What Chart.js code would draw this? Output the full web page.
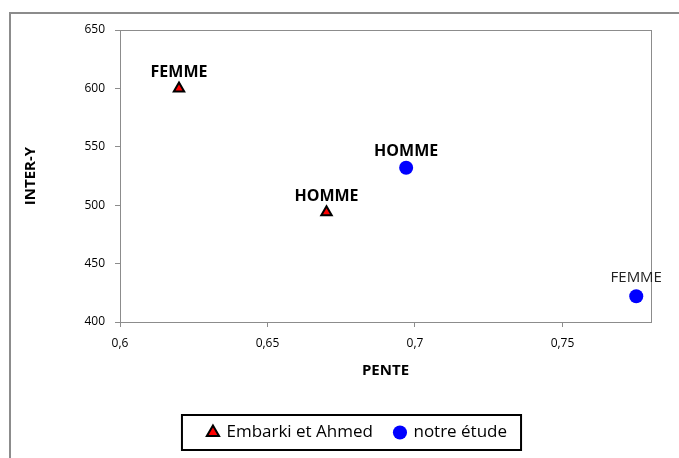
<!DOCTYPE html>
<html lang="fr">
<head>
<meta charset="UTF-8" />
<title>PENTE / INTER-Y</title>
<script src="https://cdn.jsdelivr.net/npm/chart.js@4.4.3/dist/chart.umd.js"></script>
<style>
  *{box-sizing:border-box;margin:0;padding:0}
  html,body{width:679px;height:458px;overflow:hidden;background:#fff}
  .frame{position:absolute;left:9px;top:12px;width:700px;height:470px;
         border-left:2px solid #8c8c8c;border-top:2px solid #8c8c8c}
  .wrap{position:absolute;left:0;top:0;width:679px;height:458px}
</style>
</head>
<body>
<div class="frame"></div>
<div class="wrap"><canvas id="c"></canvas></div>
<script>
  // ---- data ----
  const seriesNames = ['Embarki et Ahmed', 'notre étude'];
  const embarkiPente = [0.62, 0.67];
  const embarkiInter = [600, 494];
  const embarkiLabels = ['FEMME', 'HOMME'];
  const etudePente = [0.697, 0.775];
  const etudeInter = [532, 422];
  const etudeLabels = ['HOMME', 'FEMME'];
  const xTicks = [0.6, 0.65, 0.7, 0.75];

  const FONT = '"Open Sans", sans-serif';
  const LEGEND_SHIFT = 25;  // legend sits a bit right of centre in the original
  const toPts = (xs, ys) => xs.map((x, i) => ({x, y: ys[i]}));

  /* labels above each point, plot border, legend box */
  const decor = {
    id: 'decor',
    afterLayout(chart){
      chart.legend.left += LEGEND_SHIFT;
      chart.legend.right += LEGEND_SHIFT;
    },
    afterDatasetsDraw(chart){
      const {ctx, chartArea:a} = chart;
      ctx.save();
      ctx.strokeStyle = '#8c8c8c'; ctx.lineWidth = 1;
      ctx.strokeRect(a.left + .5, a.top + .5, a.right - a.left, a.bottom - a.top);
      ctx.textAlign = 'center'; ctx.textBaseline = 'bottom';
      chart.data.datasets.forEach((ds, di) => {
        chart.getDatasetMeta(di).data.forEach((pt, i) => {
          const lightLbl = di === 1 && i === 1;
          ctx.fillStyle = lightLbl ? '#222' : '#000';
          ctx.font = (lightLbl ? '15px ' : 'bold 16px ') + FONT;
          ctx.fillText(ds.pointLabels[i], pt.x, pt.y - (lightLbl ? 11 : 8));
        });
      });
      ctx.restore();
    },
    afterDraw(chart){
      const hb = chart.legend.legendHitBoxes;
      if(!hb || !hb.length) return;
      const l = Math.min(...hb.map(h => h.left)) - 26;
      const r = Math.max(...hb.map(h => h.left + h.width)) + 14;
      const t = hb[0].top - 9, b = hb[0].top + hb[0].height + 9;
      const ctx = chart.ctx;
      ctx.save();
      ctx.strokeStyle = '#000'; ctx.lineWidth = 2;
      ctx.strokeRect(l, t, r - l, b - t);
      ctx.restore();
    }
  };

  new Chart(document.getElementById('c'), {
    type: 'scatter',
    data: {
      datasets: [
        {label: seriesNames[0], data: toPts(embarkiPente, embarkiInter), pointLabels: embarkiLabels,
         pointStyle: 'triangle', pointRadius: 6, pointHoverRadius: 6,
         backgroundColor: '#ff0000', borderColor: '#000', borderWidth: 2},
        {label: seriesNames[1], data: toPts(etudePente, etudeInter), pointLabels: etudeLabels,
         pointStyle: 'circle', pointRadius: 7, pointHoverRadius: 7,
         backgroundColor: '#0000ff', borderColor: '#0000ff', borderWidth: 0}
      ]
    },
    options: {
      responsive: true, maintainAspectRatio: false, animation: false,
      layout: {padding: {left: 14, right: 28, top: 30, bottom: 7}},
      scales: {
        x: {
          type: 'linear', min: 0.6, max: 0.78,
          afterBuildTicks: s => { s.ticks = xTicks.map(v => ({value: v})); },
          ticks: {color: '#000', font: {family: FONT, size: 12}, padding: 9,
                  callback: v => String(v).replace('.', ',')},
          grid: {drawOnChartArea: false, tickLength: 5, color: '#8c8c8c'},
          border: {color: '#8c8c8c'},
          afterFit: s => { s.height = 80; },
          title: {display: true, text: 'PENTE', color: '#000',
                  font: {family: FONT, size: 15, weight: 'bold'}, padding: {top: 10, bottom: 22}}
        },
        y: {
          min: 400, max: 650,
          ticks: {stepSize: 50, color: '#000', font: {family: FONT, size: 12}, padding: 10},
          grid: {drawOnChartArea: false, tickLength: 5, color: '#8c8c8c'},
          border: {color: '#8c8c8c'},
          afterFit: s => { s.width = 106; },
          title: {display: true, text: 'INTER-Y', color: '#000',
                  font: {family: FONT, size: 15, weight: 'bold'}, padding: {top: 8, bottom: 0}}
        }
      },
      plugins: {
        legend: {
          position: 'bottom',
          labels: {usePointStyle: true, boxWidth: 10, boxHeight: 10, padding: 22,
                   color: '#000', font: {family: FONT, size: 17}}
        },
        tooltip: {enabled: false}
      }
    },
    plugins: [decor]
  });
</script>
</body>
</html>
